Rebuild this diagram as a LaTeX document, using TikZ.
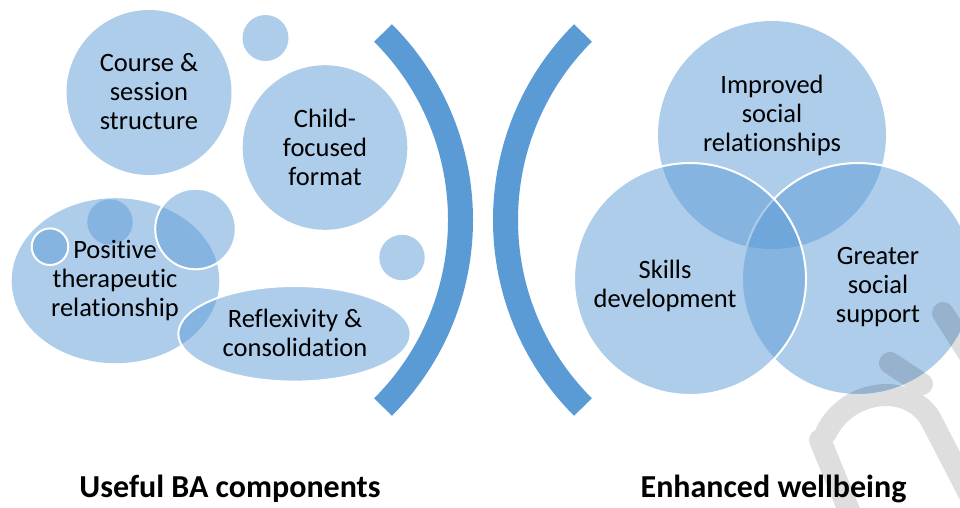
\documentclass[tikz,border=0pt]{standalone}
\usepackage{fontspec}
\setmainfont{Carlito}[Ligatures={NoCommon}]
\definecolor{acc}{HTML}{5B9BD5}
\begin{document}
\begin{tikzpicture}[x=1pt,y=-1pt,
  bubble/.style={fill=acc, fill opacity=0.5},
  rimmed/.style={bubble, draw=white, draw opacity=1, line width=2},
  label/.style={font=\fontsize{26.5}{29}\selectfont, align=center, text=black, inner sep=0},
  title/.style={font=\bfseries\fontsize{32}{36}\selectfont, anchor=base, inner sep=0},
  bracket/.style={draw=acc, line width=25},
  wmstroke/.style={draw=black, draw opacity=0.13, line width=22, line cap=round}
]
\useasboundingbox (0,0) rectangle (960,507);

% left cluster of bubbles
\fill[bubble] (115.5,280.7) ellipse[x radius=103.8, y radius=82.5];
\fill[bubble] (110,222) circle[radius=22.7];
\filldraw[rimmed] (50,246.7) circle[radius=18.3];
\filldraw[rimmed] (195.5,229) circle[radius=40.3];
\filldraw[rimmed] (294.5,333.8) ellipse[x radius=116.2, y radius=47.8];
\fill[bubble] (149,92.5) circle[radius=82.5];
\fill[bubble] (265.5,38) circle[radius=23];
\fill[bubble] (325,147.5) circle[radius=82.3];
\fill[bubble] (402,257.5) circle[radius=22.7];

% the two brackets
\draw[bracket] (196,220) ++(-45:264.5) arc[start angle=-45, end angle=45, radius=264.5];
\draw[bracket] (770,220) ++(225:264.5) arc[start angle=225, end angle=135, radius=264.5];

% Venn diagram on the right
\fill[bubble] (772,135) circle[radius=114];
\filldraw[rimmed] (858,279) circle[radius=116];
\filldraw[rimmed] (690,279) circle[radius=116];

% labels
\node[label] (course) at (149,92) {Course \&\\session\\structure};
\node[label] (child) at (325,147) {Child-\\focused\\format};
\node[label] (positive) at (115,281) {Positive\\therapeutic\\relationship};
\node[label] (reflex) at (295,333) {Reflexivity \&\\consolidation};
\node[label] (improved) at (772,115) {Improved\\social\\relationships};
\node[label] (skills) at (665,286) {Skills\\development};
\node[label] (greater) at (878,287) {Greater\\social\\support};

\node[title] (useful) at (230,497) {Useful BA components};
\node[title] (enhanced) at (773.5,497) {Enhanced wellbeing};

% faint grey strokes in the lower right corner
\draw[wmstroke] (852,518) -- (820,440)
  (826,433) .. controls (845,392) and (905,380) .. (930,418) -- (975,505)
  (890,363) -- (922,384)
  (943,313) -- (978,368);
\end{tikzpicture}
\end{document}
